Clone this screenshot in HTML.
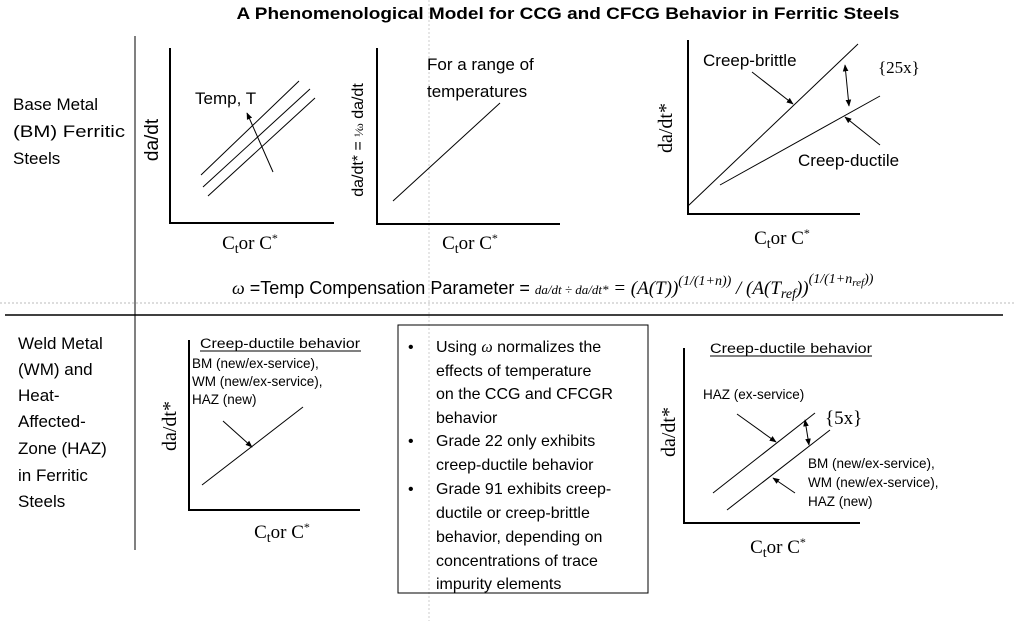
<!DOCTYPE html>
<html><head><meta charset="utf-8"><style>
html,body{margin:0;padding:0;background:#fff;}
svg{display:block;font-family:"Liberation Sans",sans-serif;}
.s{font-family:"Liberation Serif",serif;}
</style></head><body>
<svg width="1016" height="621" viewBox="0 0 1016 621">
<defs><marker id="ah" viewBox="0 0 10 10" refX="9" refY="5" markerWidth="7" markerHeight="7" orient="auto-start-reverse"><path d="M0,1 L10,5 L0,9 z" fill="#000"/></marker></defs>
<text x="568" y="19" text-anchor="middle" font-weight="bold" font-size="17" textLength="663" lengthAdjust="spacingAndGlyphs">A Phenomenological Model for CCG and CFCG Behavior in Ferritic Steels</text>
<g stroke="#000">
<line x1="135" y1="36" x2="135" y2="550" stroke-width="1"/>
<line x1="5" y1="315" x2="1003" y2="315" stroke-width="1.5"/>
<line x1="0" y1="303" x2="1016" y2="303" stroke="#bbb" stroke-dasharray="2,2"/>
<line x1="429" y1="0" x2="429" y2="621" stroke="#ccc" stroke-dasharray="2,2"/>
</g>
<g font-size="17">
<text x="13" y="110">Base Metal</text><text x="13" y="137" textLength="112" lengthAdjust="spacingAndGlyphs">(BM) Ferritic</text><text x="13" y="164">Steels</text></g>
<g font-size="17">
<text x="18" y="349">Weld Metal</text><text x="18" y="375">(WM) and</text><text x="18" y="401">Heat-</text><text x="18" y="427">Affected-</text><text x="18" y="454">Zone (HAZ)</text><text x="18" y="481">in Ferritic</text><text x="18" y="507">Steels</text></g>

<g stroke="#000" fill="none">
<polyline points="170,48 170,223 334,223" stroke-width="2"/>
<line x1="201" y1="175" x2="299" y2="81"/><line x1="203" y1="187" x2="310" y2="89"/><line x1="208" y1="196" x2="315" y2="98"/>
<line x1="273" y1="172" x2="247" y2="113" marker-end="url(#ah)"/>
</g>
<text x="195" y="104" font-size="17">Temp, T</text>
<text transform="translate(158,140) rotate(-90)" text-anchor="middle" font-size="19">da/dt</text>
<text class="s" x="250" y="249" text-anchor="middle" font-size="19">C<tspan font-size="14" dy="4">t</tspan><tspan dy="-4">or C</tspan><tspan font-size="12" dy="-7">*</tspan></text>

<g stroke="#000" fill="none">
<polyline points="377,48 377,224 560,224" stroke-width="2"/>
<line x1="393" y1="201" x2="500" y2="103"/></g>
<text x="427" y="70" font-size="17">For a range of</text>
<text x="427" y="97" font-size="17">temperatures</text>
<text transform="translate(363,140) rotate(-90)" text-anchor="middle" font-size="16">da/dt* = <tspan class="s" font-size="12">¹⁄ω</tspan> da/dt</text>
<text class="s" x="470" y="249" text-anchor="middle" font-size="19">C<tspan font-size="14" dy="4">t</tspan><tspan dy="-4">or C</tspan><tspan font-size="12" dy="-7">*</tspan></text>

<g stroke="#000" fill="none">
<polyline points="688,40 688,214 860,214" stroke-width="2"/>
<line x1="688" y1="206" x2="858" y2="44"/><line x1="720" y1="185" x2="880" y2="96"/>
<line x1="752" y1="72" x2="793" y2="104" marker-end="url(#ah)"/>
<line x1="849" y1="106" x2="845" y2="65" marker-end="url(#ah)" marker-start="url(#ah)"/>
<line x1="880" y1="145" x2="845" y2="117" marker-end="url(#ah)"/>
</g>
<text x="703" y="66" font-size="17">Creep-brittle</text>
<text class="s" x="878" y="73" font-size="17">{25x}</text>
<text x="798" y="166" font-size="17">Creep-ductile</text>
<text class="s" transform="translate(672,128) rotate(-90)" text-anchor="middle" font-size="20">da/dt*</text>
<text class="s" x="782" y="244" text-anchor="middle" font-size="19">C<tspan font-size="14" dy="4">t</tspan><tspan dy="-4">or C</tspan><tspan font-size="12" dy="-7">*</tspan></text>

<text x="232" y="294" font-size="18"><tspan class="s" font-style="italic">ω</tspan> =Temp Compensation Parameter = <tspan class="s" font-style="italic" font-size="13">da/dt ÷ da/dt*</tspan><tspan class="s" font-style="italic" font-size="19"> = (A(T))</tspan><tspan class="s" font-style="italic" font-size="14" dy="-9">(1/(1+n))</tspan><tspan class="s" font-style="italic" font-size="19" dy="9"> / (A(T</tspan><tspan class="s" font-style="italic" font-size="14" dy="4">ref</tspan><tspan class="s" font-style="italic" font-size="19" dy="-4">))</tspan><tspan class="s" font-style="italic" font-size="14" dy="-11">(1/(1+n</tspan><tspan class="s" font-style="italic" font-size="11" dy="3">ref</tspan><tspan class="s" font-style="italic" font-size="14" dy="-3">))</tspan></text>

<g stroke="#000" fill="none">
<polyline points="189,340 189,510 360,510" stroke-width="2"/>
<line x1="202" y1="485" x2="303" y2="407"/>
<line x1="223" y1="421" x2="252" y2="447" marker-end="url(#ah)"/>
<line x1="200" y1="351" x2="361" y2="351"/></g>
<text x="200" y="348" font-size="13.5" textLength="160" lengthAdjust="spacingAndGlyphs">Creep-ductile behavior</text>
<g font-size="13.5"><text x="192" y="368">BM (new/ex-service),</text><text x="192" y="386">WM (new/ex-service),</text><text x="192" y="404">HAZ (new)</text></g>
<text class="s" transform="translate(176,426) rotate(-90)" text-anchor="middle" font-size="20">da/dt*</text>
<text class="s" x="282" y="538" text-anchor="middle" font-size="19">C<tspan font-size="14" dy="4">t</tspan><tspan dy="-4">or C</tspan><tspan font-size="12" dy="-7">*</tspan></text>

<rect x="398" y="325" width="250" height="268" fill="none" stroke="#000"/>
<g font-size="16">
<text x="408" y="352">•</text><text x="436" y="352">Using <tspan class="s" font-style="italic">ω</tspan> normalizes the</text>
<text x="436" y="376">effects of temperature</text><text x="436" y="399">on the CCG and CFCGR</text><text x="436" y="423">behavior</text>
<text x="408" y="446">•</text><text x="436" y="446">Grade 22 only exhibits</text><text x="436" y="470">creep-ductile behavior</text>
<text x="408" y="494">•</text><text x="436" y="494">Grade 91 exhibits creep-</text><text x="436" y="518">ductile or creep-brittle</text>
<text x="436" y="542">behavior, depending on</text><text x="436" y="566">concentrations of trace</text><text x="436" y="589">impurity elements</text></g>

<g stroke="#000" fill="none">
<polyline points="684,348 684,523 860,523" stroke-width="2"/>
<line x1="713" y1="493" x2="815" y2="413"/><line x1="727" y1="510" x2="830" y2="430"/>
<line x1="737" y1="414" x2="776" y2="442" marker-end="url(#ah)"/>
<line x1="795" y1="493" x2="773" y2="478" marker-end="url(#ah)"/>
<line x1="805" y1="420" x2="809" y2="445" marker-end="url(#ah)" marker-start="url(#ah)"/>
<line x1="710" y1="356" x2="872" y2="356"/></g>
<text x="710" y="353" font-size="13.5" textLength="162" lengthAdjust="spacingAndGlyphs">Creep-ductile behavior</text>
<text x="703" y="399" font-size="13.5">HAZ (ex-service)</text>
<text class="s" x="825" y="424" font-size="19">{5x}</text>
<g font-size="13.5"><text x="808" y="468">BM (new/ex-service),</text><text x="808" y="487">WM (new/ex-service),</text><text x="808" y="506">HAZ (new)</text></g>
<text class="s" transform="translate(675,432) rotate(-90)" text-anchor="middle" font-size="20">da/dt*</text>
<text class="s" x="778" y="553" text-anchor="middle" font-size="19">C<tspan font-size="14" dy="4">t</tspan><tspan dy="-4">or C</tspan><tspan font-size="12" dy="-7">*</tspan></text>
</svg>
</body></html>
